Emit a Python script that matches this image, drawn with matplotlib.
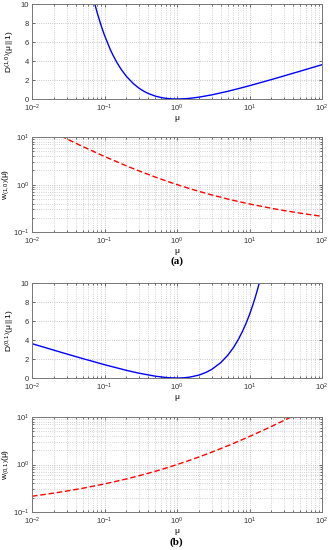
import matplotlib
matplotlib.use("Agg")
import matplotlib.pyplot as plt
from matplotlib.ticker import LogLocator, NullFormatter

plt.rcParams['font.family'] = ['Liberation Sans', 'DejaVu Sans']
plt.rcParams['mathtext.fontset'] = 'custom'
plt.rcParams['mathtext.rm'] = 'Liberation Sans'
plt.rcParams['mathtext.it'] = 'Liberation Sans'

# Panel (a): D^(1,0)(mu || 1)
mu_d1 = [0.07, 0.075, 0.08, 0.09, 0.1, 0.12, 0.13, 0.15, 0.17, 0.2, 0.25, 0.3, 0.35,
         0.4, 0.5, 0.6, 0.7, 0.8, 0.9, 1.0, 1.25, 1.5, 2, 3, 5, 7, 10, 15, 20, 30, 50, 70, 100]
d1 = [10.627, 9.743, 8.974, 7.703, 6.697, 5.213, 4.652, 3.770, 3.110, 2.391, 1.614, 1.129, 0.807,
      0.584, 0.307, 0.156, 0.072, 0.027, 0.0058, 0.0, 0.0231, 0.0721, 0.193, 0.432, 0.809, 1.089,
      1.403, 1.775, 2.046, 2.435, 2.932, 3.263, 3.615]

# Panel (a): w_(1,0)(mu)
mu_w1 = [0.025, 0.03, 0.05, 0.1, 0.2, 0.3, 0.5, 0.7, 1.0, 1.5, 2, 3, 5, 7, 10, 20, 30, 50, 70, 100]
w1 = [10.57, 9.221, 6.342, 3.909, 2.485, 1.938, 1.4427, 1.2016, 1.0, 0.8221, 0.7213, 0.6068,
      0.4971, 0.4405, 0.3909, 0.3171, 0.2842, 0.2505, 0.2320, 0.2150]

# Panel (b): D^(0,1)(mu || 1)
mu_d2 = [0.01, 0.02, 0.03, 0.05, 0.1, 0.2, 0.3, 0.5, 0.7, 0.8, 1.0, 1.1, 1.25, 1.5, 2, 2.5,
         3, 4, 5, 6, 7, 8, 9, 10, 11, 12, 13, 14]
d2 = [3.615, 2.932, 2.537, 2.046, 1.403, 0.809, 0.504, 0.193, 0.0567, 0.0231, 0.0, 0.0047,
      0.0269, 0.0945, 0.307, 0.584, 0.901, 1.614, 2.391, 3.208, 4.054, 4.921, 5.803, 6.697,
      7.602, 8.515, 9.435, 10.361]

# Panel (b): w_(0,1)(mu)
mu_w2 = [0.01, 0.02, 0.03, 0.05, 0.1, 0.2, 0.3, 0.5, 0.7, 1.0, 1.5, 2, 3, 5, 7, 10, 15, 20, 30, 40]
w2 = [0.2150, 0.2505, 0.2766, 0.3171, 0.3909, 0.4971, 0.5814, 0.7213, 0.8411, 1.0, 1.2332,
      1.4427, 1.8205, 2.4853, 3.0834, 3.9087, 5.1698, 6.3424, 8.5264, 10.572]

d_ticks = [0, 2, 4, 6, 8, 10]

fig = plt.figure(figsize=(3.3, 5.5), dpi=100)
L, W, H = 0.097, 0.879, 0.1727
axes = [fig.add_axes([L, b, W, H]) for b in (0.82, 0.578, 0.3127, 0.069)]

def style(ax, logy):
    ax.set_xscale('log')
    ax.set_xlim(1e-2, 1e2)
    ax.xaxis.set_major_locator(LogLocator(base=10, numticks=10))
    ax.xaxis.set_minor_locator(LogLocator(base=10, subs=range(2, 10), numticks=10))
    ax.xaxis.set_minor_formatter(NullFormatter())
    if logy:
        ax.set_yscale('log')
        ax.set_ylim(0.1, 10)
        ax.yaxis.set_minor_locator(LogLocator(base=10, subs=range(2, 10), numticks=10))
        ax.yaxis.set_minor_formatter(NullFormatter())
    else:
        ax.set_ylim(0, 10)
        ax.set_yticks(d_ticks)
    ax.grid(True, which='major', color='#b4b4b4', linestyle=':', linewidth=0.6)
    ax.grid(True, which='minor', color='#c4c4c4', linestyle=':', linewidth=0.6)
    ax.set_axisbelow(True)
    ax.tick_params(which='both', direction='in', top=True, right=True, labelsize=5.5,
                   length=2, width=0.5, colors='#333333')
    ax.tick_params(axis='x', pad=2.5)
    ax.tick_params(axis='y', pad=2)
    ax.tick_params(which='minor', length=1.2)
    for s in ax.spines.values():
        s.set_color('#777777')
        s.set_linewidth(0.7)
    ax.set_xlabel(r'$\mu$', fontsize=6, labelpad=0)

ax1, ax2, ax3, ax4 = axes
ax1.plot(mu_d1, d1, color='#0000ff', linewidth=1.0)
style(ax1, False)
ax1.set_ylabel(r'$\mathrm{D}^{(1,0)}(\mu\,||\,1)$', fontsize=6, labelpad=3)

ax2.plot(mu_w1, w1, color='#ff0000', linewidth=1.0, linestyle=(0, (4, 2)))
style(ax2, True)
ax2.set_ylabel(r'$\mathrm{w}_{(1,0)}(\mu)$', fontsize=6, labelpad=1)

ax3.plot(mu_d2, d2, color='#0000ff', linewidth=1.0)
style(ax3, False)
ax3.set_ylabel(r'$\mathrm{D}^{(0,1)}(\mu\,||\,1)$', fontsize=6, labelpad=3)

ax4.plot(mu_w2, w2, color='#ff0000', linewidth=1.0, linestyle=(0, (4, 2)))
style(ax4, True)
ax4.set_ylabel(r'$\mathrm{w}_{(0,1)}(\mu)$', fontsize=6, labelpad=1)

fig.text(0.535, 0.525, '(a)', ha='center', va='center', fontsize=8, fontweight='bold',
         family=['Liberation Serif', 'DejaVu Serif'])
fig.text(0.535, 0.0135, '(b)', ha='center', va='center', fontsize=8, fontweight='bold',
         family=['Liberation Serif', 'DejaVu Serif'])

fig.savefig('out.png', dpi=100)
